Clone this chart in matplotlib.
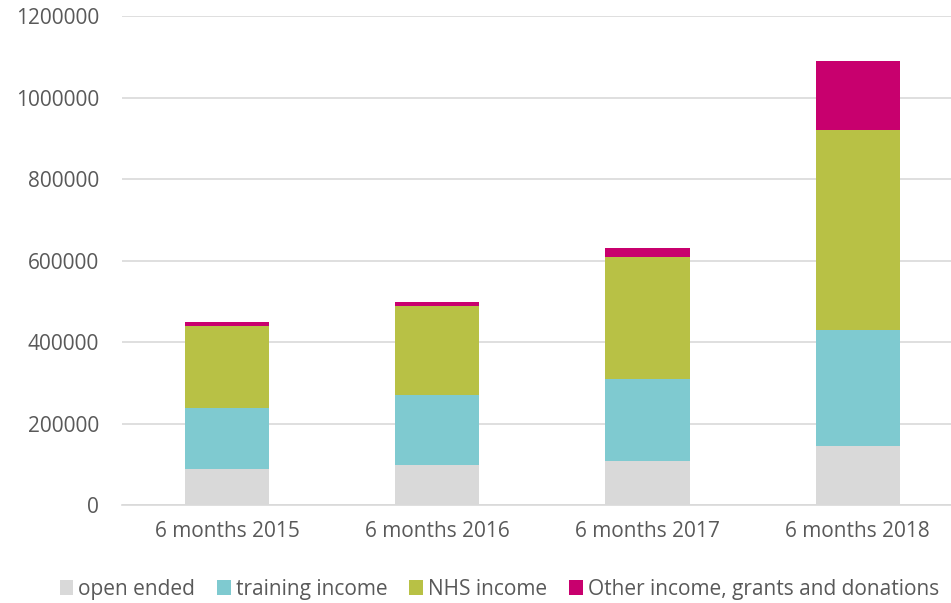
import matplotlib
matplotlib.use("Agg")
import matplotlib.pyplot as plt
import numpy as np

# data
periods = ["6 months 2015", "6 months 2016", "6 months 2017", "6 months 2018"]
open_ended = [90000, 100000, 110000, 145000]
training_income = [150000, 170000, 200000, 285000]
nhs_income = [200000, 220000, 300000, 490000]
other_income = [10000, 10000, 20000, 170000]

series_names = ["open ended", "training income", "NHS income",
                "Other income, grants and donations"]
series_colors = ["#D9D9D9", "#7FCAD0", "#B8C145", "#C8006E"]
y_ticks = [0, 200000, 400000, 600000, 800000, 1000000, 1200000]

plt.rcParams['font.family'] = ['Open Sans', 'DejaVu Sans']
text_color = "#595959"

fig = plt.figure(figsize=(9.51, 6.03), dpi=100)
ax = fig.add_axes([0.1288, 0.1617, 0.8833, 0.8118])

x = np.arange(len(periods))
bottom = np.zeros(len(periods))
for name, vals, col in zip(series_names,
                           [open_ended, training_income, nhs_income, other_income],
                           series_colors):
    ax.bar(x, vals, width=0.4, bottom=bottom, color=col, label=name, zorder=3)
    bottom += np.array(vals)

ax.set_xlim(-0.5, len(periods) - 0.5)
ax.set_ylim(0, 1200000)
ax.set_yticks(y_ticks)
ax.set_yticklabels([str(v) for v in y_ticks])
ax.set_xticks(x)
ax.set_xticklabels(periods)
ax.grid(axis='y', color="#D9D9D9", linewidth=1.2, zorder=0)
for s in ["top", "right", "left"]:
    ax.spines[s].set_visible(False)
ax.spines["bottom"].set_color("#D9D9D9")
ax.spines["bottom"].set_linewidth(1.2)
ax.tick_params(axis='both', length=0, labelsize=15, colors=text_color)
ax.tick_params(axis='y', pad=17)
ax.tick_params(axis='x', pad=11)

fig.legend(loc="lower center", bbox_to_anchor=(0.525, -0.026), ncol=4,
           frameon=False, fontsize=15, labelcolor=text_color,
           handlelength=0.65, handleheight=0.75, handletextpad=0.25,
           columnspacing=1.05)

fig.savefig("out.png", dpi=100)
